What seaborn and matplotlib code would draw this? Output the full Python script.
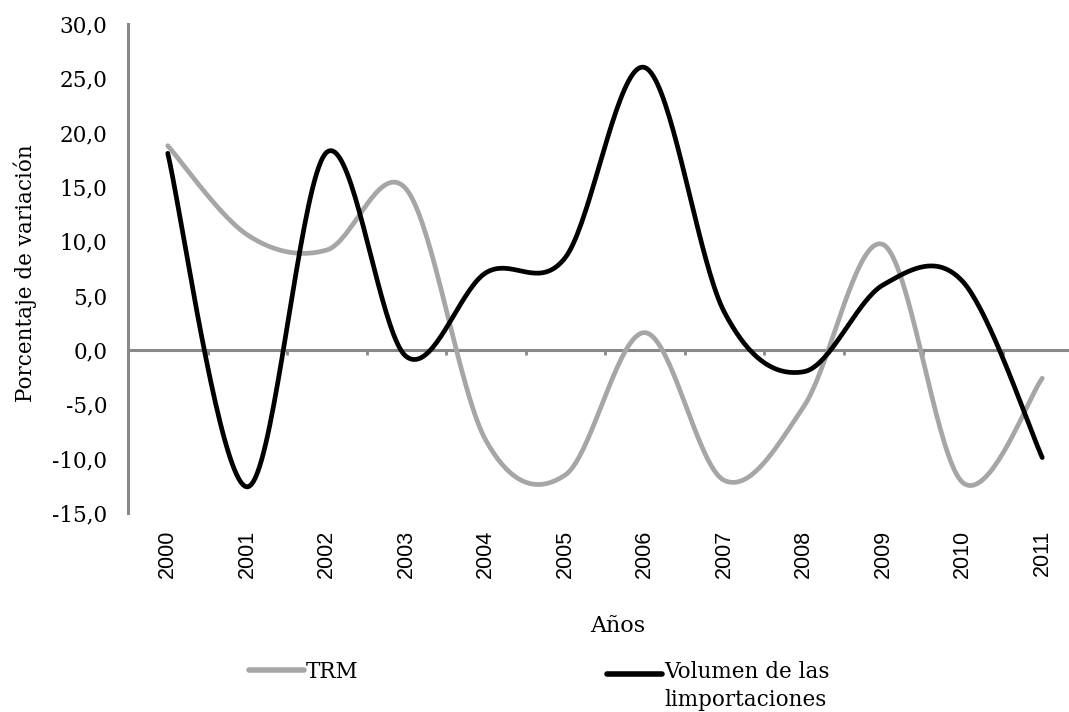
import matplotlib
matplotlib.use("Agg")
import matplotlib.pyplot as plt
from matplotlib.lines import Line2D
import numpy as np
import pandas as pd
import seaborn as sns

# values
years = ['2000', '2001', '2002', '2003', '2004', '2005',
         '2006', '2007', '2008', '2009', '2010', '2011']
trm = [18.8, 10.6, 9.2, 14.8, -8.3, -11.5, 1.6, -12.0, -5.2, 9.7, -12.2, -2.6]
volumen = [18.1, -12.6, 18.2, -0.6, 7.1, 8.5, 26.0, 3.5, -2.0, 6.0, 6.3, -9.9]
series_names = ['TRM', 'Volumen de las\nlimportaciones']
series_colors = ['#a6a6a6', '#000000']
yticks = [-15, -10, -5, 0, 5, 10, 15, 20, 25, 30]


def excel_smooth(vals, n=40):
    # Excel-style smoothed line: cubic bezier with catmull-rom control points
    pts = np.array(vals, dtype=float)
    xs = np.arange(len(pts), dtype=float)
    out_x, out_y = [], []
    last = len(pts) - 1
    for i in range(last):
        i0, i3 = max(i - 1, 0), min(i + 2, last)
        t = np.linspace(0, 1, n)
        for src, out in ((xs, out_x), (pts, out_y)):
            p0, p1, p2, p3 = src[i0], src[i], src[i + 1], src[i3]
            c1 = p1 + (p2 - p0) / 6
            c2 = p2 - (p3 - p1) / 6
            b = ((1 - t) ** 3 * p1 + 3 * (1 - t) ** 2 * t * c1
                 + 3 * (1 - t) * t ** 2 * c2 + t ** 3 * p2)
            out.extend(b if i == 0 else b[1:])
    return out_x, out_y


frames = []
for name, vals in zip(series_names, [trm, volumen]):
    sx, sy = excel_smooth(vals)
    frames.append(pd.DataFrame({'x': sx, 'y': sy, 'serie': name}))
df = pd.concat(frames, ignore_index=True)

sns.set_style("white")
plt.rcParams['font.family'] = ['DejaVu Serif']
for key in ['text.color', 'axes.labelcolor', 'xtick.color', 'ytick.color']:
    plt.rcParams[key] = 'black'
fs = 15.5

fig = plt.figure(figsize=(10.69, 7.12), dpi=100)
ax = fig.add_axes([128 / 1069, 1 - 513 / 712, 954 / 1069, 489 / 712])

axis_gray = '#888888'
ax.axhline(0, color=axis_gray, lw=2.2, zorder=1)
# category boundary ticks on the zero line
ax.vlines(np.arange(len(years) + 1) - 0.5, -0.45, 0, color=axis_gray, lw=2, zorder=1)

sns.lineplot(data=df, x='x', y='y', hue='serie', palette=series_colors,
             hue_order=series_names, sort=False, estimator=None,
             linewidth=3.4, legend=False, ax=ax, zorder=3)
for line in ax.get_lines():
    line.set_solid_capstyle('round')
    line.set_solid_joinstyle('round')

ax.set_xlim(-0.5, len(years) - 0.5)
ax.set_ylim(-15, 30)
ax.set_yticks(yticks)
ax.set_yticklabels([f'{v:.1f}'.replace('.', ',') for v in yticks], fontsize=fs)
ax.set_xticks(range(len(years)))
ax.set_xticklabels(years, rotation=90, fontsize=15.5, family=['Liberation Sans'])
ax.tick_params(axis='both', length=0, colors='black')
ax.tick_params(axis='y', pad=15)
ax.tick_params(axis='x', pad=12)

for side in ['top', 'right', 'bottom']:
    ax.spines[side].set_visible(False)
ax.spines['left'].set_color(axis_gray)
ax.spines['left'].set_linewidth(2.2)

ax.set_ylabel('Porcentaje de variación', fontsize=fs)
ax.yaxis.set_label_coords(-0.095, 0.49)
ax.set_xlabel('Años', fontsize=16)
ax.xaxis.set_label_coords(0.5136, -0.208)

# two legend blocks, like the reference (second label wraps onto two lines)
anchors = [(249 / 1069, 1 - 661 / 712), (607 / 1069, 1 - 661 / 712)]
for name, color, anchor in zip(series_names, series_colors, anchors):
    handle = Line2D([], [], color=color, lw=4, solid_capstyle='round')
    leg = fig.legend([handle], [name], loc='upper left', frameon=False,
                     bbox_to_anchor=anchor, fontsize=fs,
                     handlelength=2.55, handletextpad=0.1,
                     borderpad=0, borderaxespad=0)
    if '\n' in name:
        leg.get_texts()[0].set_linespacing(1.38)
        h = leg.legend_handles[0]
        h.set_ydata(np.asarray(h.get_ydata()) + 9.8)

fig.savefig('out.png', dpi=100)
